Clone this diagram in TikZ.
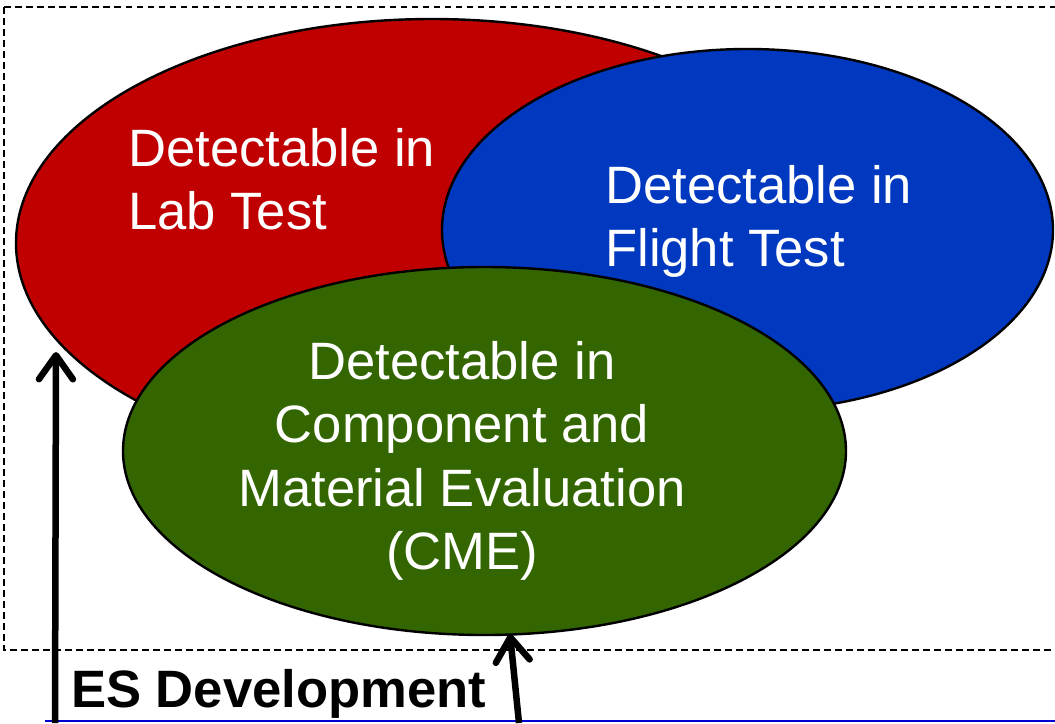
\documentclass[tikz,border=0pt]{standalone}
\usepackage{fontspec}
\setmainfont{Liberation Sans}
\usetikzlibrary{shapes.geometric,arrows.meta}
\definecolor{labred}{RGB}{192,0,0}
\definecolor{flightblue}{RGB}{0,56,192}
\definecolor{cmegreen}{RGB}{51,102,0}
\definecolor{baseblue}{RGB}{0,0,210}
\tikzset{
  blob/.style={ellipse, draw=black, line width=2.4pt, inner sep=0pt, outer sep=0pt},
  blobtext/.style={text=white, inner sep=0pt, font=\fontsize{52.6}{63.5}\selectfont},
  uparrow/.style={line width=6.5pt, -{Straight Barb[length=24pt,width=34pt,round]}},
  frame/.style={draw=black, line width=1.9pt, dash pattern=on 6.5pt off 4.5pt},
}
\begin{document}
\begin{tikzpicture}[x=1pt,y=-1pt]
\useasboundingbox (0,0) rectangle (1055,723);
\draw[frame] (4,7) rectangle (1075,650);
% ellipses
\node[blob, fill=labred, minimum width=832pt, minimum height=448pt] (red) at (432,243) {};
\node[blob, fill=flightblue, minimum width=611pt, minimum height=362pt] (blue) at (747.5,230) {};
\node[blob, fill=cmegreen, minimum width=723pt, minimum height=368pt] (green) at (484.5,451) {};
% labels
\node[blobtext, anchor=north west, align=left] (redlbl) at (128,128) {Detectable in\\Lab Test};
\node[blobtext, anchor=north west, align=left] (bluelbl) at (605,165) {Detectable in\\Flight Test};
\node[blobtext, anchor=north, align=center] (greenlbl) at (462,341) {Detectable in\\Component and\\Material Evaluation\\(CME)};
\node[anchor=base west, inner sep=0pt, font=\fontsize{52.6}{60}\selectfont\bfseries] (es) at (71,707) {ES Development};
% base line and arrows
\coordinate (bl) at (45,721);
\coordinate (br) at (1055,721);
\draw[baseblue, line width=2pt] (bl) -- (br);
\coordinate (a1s) at (55,723);
\coordinate (a1e) at (56,352);
\coordinate (a2s) at (519,723);
\coordinate (a2e) at (510,634);
\draw[uparrow] (a1s) -- (a1e);
\draw[uparrow] (a2s) -- (a2e);
\end{tikzpicture}
\end{document}
